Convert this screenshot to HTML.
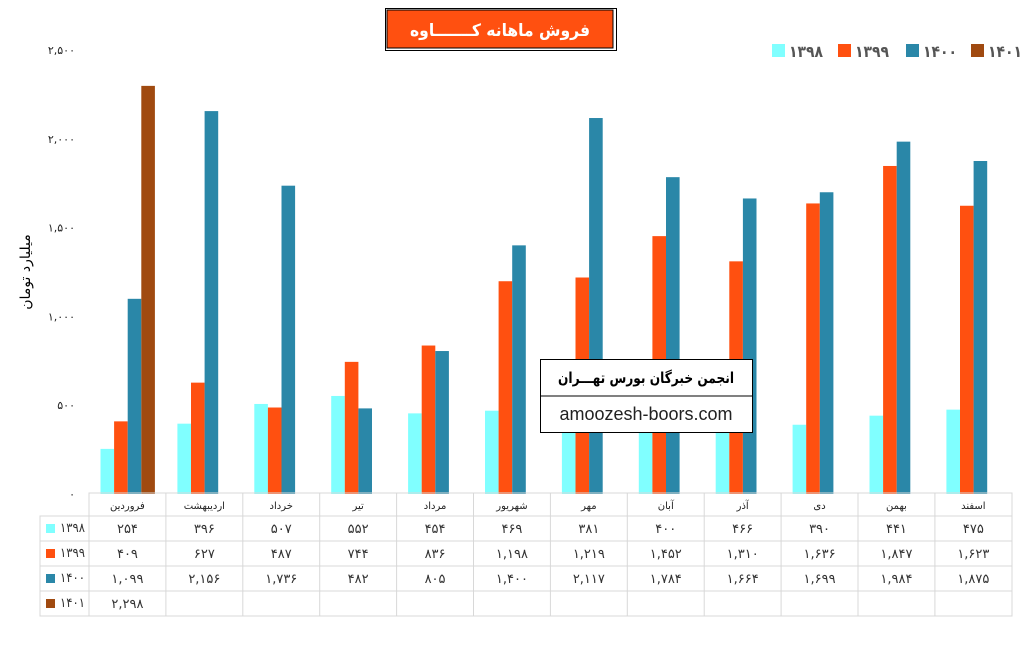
<!DOCTYPE html>
<html><head><meta charset="utf-8"><style>
body{margin:0;background:#fff;width:1024px;height:646px;overflow:hidden;font-family:"Liberation Sans","DejaVu Sans",sans-serif}
</style></head><body>
<svg id="s" width="1024" height="646" xmlns="http://www.w3.org/2000/svg" font-family="'DejaVu Sans','Liberation Sans',sans-serif"></svg>
<script>
const fa=s=>String(s).replace(/\d/g,d=>'۰۱۲۳۴۵۶۷۸۹'[d]);
const fmt=n=>fa(n.toLocaleString('en-US'));
const cats=['فروردین','اردیبهشت','خرداد','تیر','مرداد','شهریور','مهر','آبان','آذر','دی','بهمن','اسفند'];
const data=[
[254,396,507,552,454,469,381,400,466,390,441,475],
[409,627,487,744,836,1198,1219,1452,1310,1636,1847,1623],
[1099,2156,1736,482,805,1400,2117,1784,1664,1699,1984,1875],
[2298]];
const cols=['#80ffff','#ff5010','#2a87a8','#a04a10'];
const names=['1398','1399','1400','1401'];
let h='';
const y0=494,k=0.1776;
for(let i=0;i<=5;i++){const v=i*500,y=y0-v*k;h+=`<text x="75" y="${y+4}" font-size="11" text-anchor="end" fill="#222">${fmt(v)}</text>`;}
h+=`<text transform="translate(30,272) rotate(-90)" font-size="14" text-anchor="middle" fill="#000">میلیارد تومان</text>`;
const cw=76.9;
data.forEach((row,i)=>row.forEach((v,c)=>{const x=89+cw*c+11.5+13.6*i;h+=`<rect x="${x}" y="${y0-v*k}" width="13.6" height="${v*k}" fill="${cols[i]}"/>`;}));
const g='#d8d8d8';
h+=`<rect x="89" y="493" width="923" height="123" fill="none" stroke="${g}"/>`;
h+=`<rect x="40" y="516" width="49" height="100" fill="none" stroke="${g}"/>`;
for(let r=0;r<4;r++){h+=`<line x1="40" x2="1012" y1="${516+25*r}" y2="${516+25*r}" stroke="${g}"/>`;}
for(let c=1;c<12;c++){h+=`<line x1="${89+cw*c}" x2="${89+cw*c}" y1="493" y2="616" stroke="${g}"/>`;}
cats.forEach((n,c)=>{h+=`<text x="${89+cw*c+cw/2}" y="509" font-size="10" text-anchor="middle" fill="#222">${n}</text>`;});
data.forEach((row,i)=>{const y=516+25*i;
h+=`<rect x="46" y="${y+8}" width="9" height="9" fill="${cols[i]}"/><text x="85" y="${y+16}" font-size="13" text-anchor="end" fill="#333" textLength="25" lengthAdjust="spacingAndGlyphs">${fa(names[i])}</text>`;
row.forEach((v,c)=>{h+=`<text x="${89+cw*c+cw/2}" y="${y+17}" font-size="13" text-anchor="middle" fill="#333">${fmt(v)}</text>`;});});
h+=`<rect x="385.5" y="8.5" width="231" height="42" fill="#fff" stroke="#000"/><rect x="387" y="10" width="226" height="38" fill="#ff5010" stroke="#000"/>`;
h+=`<text x="500" y="36" font-size="17" font-weight="bold" text-anchor="middle" fill="#fff" textLength="180" lengthAdjust="spacingAndGlyphs">فروش ماهانه کـــــــاوه</text>`;
const lx=[772,838,906,971];
names.forEach((n,i)=>{h+=`<rect x="${lx[i]}" y="44" width="13" height="13" fill="${cols[i]}"/><text x="${lx[i]+17}" y="57" font-size="16" font-weight="bold" fill="#555" textLength="34" lengthAdjust="spacingAndGlyphs">${fa(n)}</text>`;});
h+=`<rect x="540.5" y="359.5" width="212" height="73" fill="#fff" stroke="#000"/><line x1="540" x2="753" y1="396" y2="396" stroke="#000"/>`;
h+=`<text x="646" y="383" font-size="15" font-weight="bold" text-anchor="middle" fill="#000" textLength="176" lengthAdjust="spacingAndGlyphs">انجمن خبرگان بورس تهـــران</text>`;
h+=`<text x="646" y="420" font-size="18" text-anchor="middle" fill="#222" font-family="'Liberation Sans',sans-serif">amoozesh-boors.com</text>`;
document.getElementById('s').innerHTML=h;
</script>
</body></html>
